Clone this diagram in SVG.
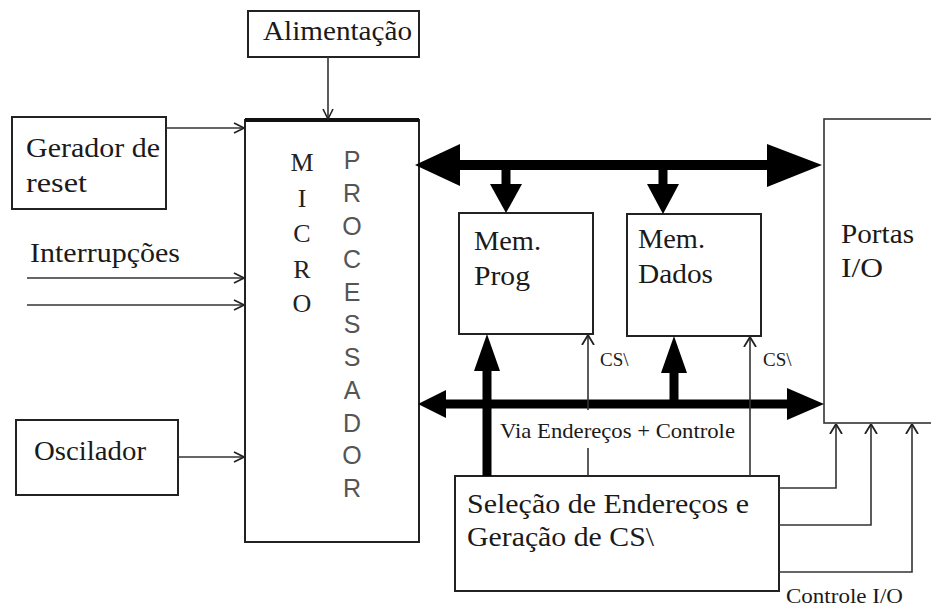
<svg xmlns="http://www.w3.org/2000/svg" width="931" height="610" viewBox="0 0 931 610">
<style>
.box{fill:#fff;stroke:#222;stroke-width:2}
.t{font-family:"Liberation Serif","Times New Roman",serif;font-size:27px;fill:#1a1a1a}
.s{font-family:"Liberation Serif","Times New Roman",serif;font-size:21px;fill:#1a1a1a}
.cs{font-family:"Liberation Serif","Times New Roman",serif;font-size:19px;fill:#1a1a1a}
.mi{font-family:"Liberation Serif","Times New Roman",serif;font-size:26px;fill:#222;text-anchor:middle}
.pr{font-family:"Liberation Sans",Arial,sans-serif;font-size:25px;fill:#555;text-anchor:middle}
.thin{fill:none;stroke:#333;stroke-width:1.6}
.thick{fill:none;stroke:#000}
.head{fill:#000}
</style>
<defs>
<marker id="open" viewBox="0 0 12 12" refX="11" refY="6" markerWidth="12" markerHeight="12" markerUnits="userSpaceOnUse" orient="auto">
<path d="M1,1 L11,6 L1,11" fill="none" stroke="#222" stroke-width="1.6"/>
</marker>
<marker id="small" viewBox="0 0 10 14" refX="10" refY="7" markerWidth="10" markerHeight="14" markerUnits="userSpaceOnUse" orient="auto">
<path d="M0,1 L10,7 L0,13" fill="none" stroke="#222" stroke-width="1.8"/>
</marker>
</defs>

<g id="alimentacao">
<rect class="box" x="248" y="11" width="171" height="46"/>
<text class="t" x="263" y="40" textLength="149" lengthAdjust="spacingAndGlyphs">Alimentação</text>
</g>

<g id="gerador-reset">
<rect class="box" x="12" y="117" width="154" height="92" stroke-width="2.5"/>
<text class="t" x="26" y="157" textLength="134" lengthAdjust="spacingAndGlyphs">Gerador de</text>
<text class="t" x="26" y="192" textLength="61" lengthAdjust="spacingAndGlyphs">reset</text>
</g>

<g id="interrupcoes">
<text class="t" x="30" y="262" textLength="150" lengthAdjust="spacingAndGlyphs">Interrupções</text>
</g>

<g id="oscilador">
<rect class="box" x="16" y="420" width="162" height="75" stroke-width="2.5"/>
<text class="t" x="34" y="460" textLength="112" lengthAdjust="spacingAndGlyphs">Oscilador</text>
</g>

<g id="microprocessador">
<rect class="box" x="245" y="120" width="174" height="422"/>
<line x1="245" y1="120" x2="419" y2="120" stroke="#111" stroke-width="4"/>
<text class="mi" x="302" y="171">M</text>
<text class="mi" x="302" y="207">I</text>
<text class="mi" x="302" y="242">C</text>
<text class="mi" x="302" y="278">R</text>
<text class="mi" x="302" y="312">O</text>
<text class="pr" x="352" y="169">P</text>
<text class="pr" x="352" y="202">R</text>
<text class="pr" x="352" y="235">O</text>
<text class="pr" x="352" y="268">C</text>
<text class="pr" x="352" y="301">E</text>
<text class="pr" x="352" y="333">S</text>
<text class="pr" x="352" y="366">S</text>
<text class="pr" x="352" y="399">A</text>
<text class="pr" x="352" y="432">D</text>
<text class="pr" x="352" y="464">O</text>
<text class="pr" x="352" y="497">R</text>
</g>

<g id="mem-prog">
<rect class="box" x="459" y="213" width="134" height="121"/>
<text class="t" x="474" y="250" textLength="67" lengthAdjust="spacingAndGlyphs">Mem.</text>
<text class="t" x="474" y="285" textLength="56" lengthAdjust="spacingAndGlyphs">Prog</text>
</g>

<g id="mem-dados">
<rect class="box" x="627" y="214" width="134" height="122" stroke-width="2.5"/>
<text class="t" x="638" y="248" textLength="67" lengthAdjust="spacingAndGlyphs">Mem.</text>
<text class="t" x="638" y="283" textLength="75" lengthAdjust="spacingAndGlyphs">Dados</text>
</g>

<g id="portas-io">
<rect x="824" y="119" width="120" height="304" fill="#fff" stroke="#333" stroke-width="1.6"/>
<text class="t" x="841" y="243" textLength="73" lengthAdjust="spacingAndGlyphs">Portas</text>
<text class="t" x="841" y="277" textLength="42" lengthAdjust="spacingAndGlyphs">I/O</text>
</g>

<g id="selecao">
<rect class="box" x="455" y="476" width="324" height="115"/>
<text class="t" x="467" y="513" textLength="282" lengthAdjust="spacingAndGlyphs">Seleção de Endereços e</text>
<text class="t" x="467" y="546" textLength="187" lengthAdjust="spacingAndGlyphs">Geração de CS\</text>
</g>

<g id="connectors">
<line class="thin" x1="328" y1="57" x2="328" y2="119" marker-end="url(#open)"/>
<line class="thin" x1="166" y1="128" x2="244" y2="128" marker-end="url(#open)"/>
<line class="thin" x1="27" y1="278" x2="244" y2="278" marker-end="url(#open)"/>
<line class="thin" x1="27" y1="305" x2="244" y2="305" marker-end="url(#open)"/>
<line class="thin" x1="178" y1="457" x2="244" y2="457" marker-end="url(#open)"/>

<line class="thick" x1="455" y1="165" x2="772" y2="165" stroke-width="10"/>
<polygon class="head" points="415,165 460,144 460,186"/>
<polygon class="head" points="822,165 767,144 767,187"/>
<line class="thick" x1="506" y1="165" x2="506" y2="190" stroke-width="9"/>
<polygon class="head" points="490,184 522,184 506,213"/>
<line class="thick" x1="663" y1="165" x2="663" y2="190" stroke-width="9"/>
<polygon class="head" points="647,184 679,184 663,214"/>

<line class="thick" x1="440" y1="404" x2="792" y2="404" stroke-width="9"/>
<polygon class="head" points="418,404 446,390 446,418"/>
<polygon class="head" points="824,404 787,388 787,420"/>

<line class="thick" x1="487" y1="476" x2="487" y2="365" stroke-width="9"/>
<polygon class="head" points="474,371 500,371 487,334"/>
<line class="thick" x1="674" y1="404" x2="674" y2="365" stroke-width="9"/>
<polygon class="head" points="661,373 687,373 674,336"/>

<line class="thin" x1="588" y1="476" x2="588" y2="448"/>
<line class="thin" x1="588" y1="410" x2="588" y2="335" marker-end="url(#small)"/>
<line class="thin" x1="750" y1="476" x2="750" y2="337" marker-end="url(#small)"/>

<polyline class="thin" points="779,488 836,488 836,424" marker-end="url(#small)"/>
<polyline class="thin" points="779,525 871,525 871,424" stroke-width="2.4" marker-end="url(#small)"/>
<polyline class="thin" points="779,572 912,572 912,424" marker-end="url(#small)"/>
</g>

<g id="labels">
<text class="cs" x="600" y="366">CS\</text>
<text class="cs" x="763" y="366">CS\</text>
<text class="s" x="500" y="438" textLength="235" lengthAdjust="spacingAndGlyphs">Via Endereços + Controle</text>
<text class="s" x="786" y="603" textLength="117" lengthAdjust="spacingAndGlyphs">Controle I/O</text>
</g>
</svg>
